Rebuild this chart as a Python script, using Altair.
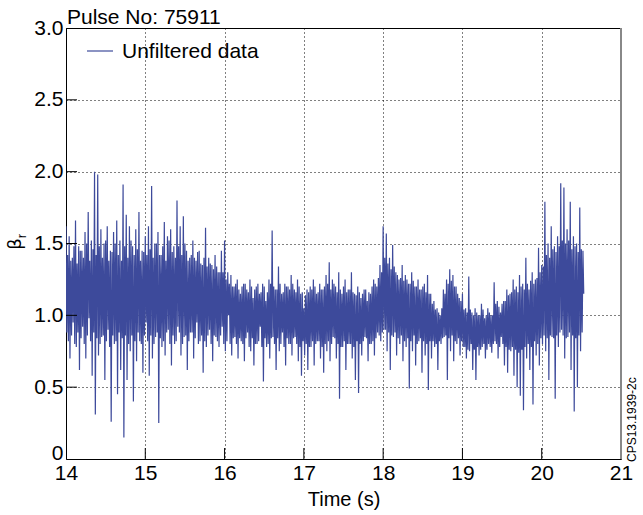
import altair as alt
import pandas as pd

TIME_START = 14.0
TIME_STEP = 0.01

VALS_14 = [1.62, 0.88, 1.42, 0.82, 1.55, 0.70, 1.38, 0.86, 1.40, 0.95, 1.48, 0.80, 1.66, 0.78, 1.36, 0.88, 1.48, 0.62, 1.45, 0.84,
           1.45, 0.92, 1.40, 0.80, 1.58, 0.70, 1.50, 0.86, 1.72, 0.98, 1.38, 0.82, 1.52, 0.58, 1.46, 0.88, 2.00, 0.31, 1.42, 0.84,
           1.98, 0.72, 1.48, 0.80, 1.60, 0.85, 1.40, 0.86, 1.50, 0.55, 1.52, 0.82, 1.62, 0.90, 1.38, 0.78, 1.45, 0.26, 1.44, 0.86,
           1.58, 0.80, 1.50, 0.82, 1.66, 0.45, 1.42, 0.88, 1.52, 0.62, 1.38, 0.84, 1.91, 0.15, 1.48, 0.86, 1.70, 0.55, 1.40, 0.80,
           1.62, 0.75, 1.52, 0.86, 1.48, 0.40, 1.42, 0.82, 1.60, 0.68, 1.46, 0.88, 1.72, 0.82, 1.38, 0.80, 1.45, 0.60, 1.44, 0.86]
VALS_15 = [1.55, 0.95, 1.42, 0.82, 1.62, 0.58, 1.46, 0.86, 1.90, 0.70, 1.40, 0.80, 1.50, 0.85, 1.50, 0.88, 1.58, 0.25, 1.42, 0.84,
           1.42, 0.78, 1.48, 0.82, 1.65, 0.72, 1.38, 0.88, 1.55, 0.90, 1.52, 0.80, 1.60, 0.65, 1.44, 0.86, 1.48, 0.80, 1.40, 0.82,
           1.80, 0.92, 1.48, 0.88, 1.62, 0.72, 1.42, 0.80, 1.69, 0.85, 1.50, 0.86, 1.45, 0.62, 1.38, 0.82, 1.40, 0.88, 1.42, 0.88,
           1.52, 0.70, 1.40, 0.84, 1.38, 0.95, 1.44, 0.80, 1.45, 0.82, 1.36, 0.86, 1.35, 0.60, 1.40, 0.82, 1.61, 0.78, 1.34, 0.86,
           1.40, 0.90, 1.36, 0.80, 1.35, 0.68, 1.32, 0.86, 1.42, 0.85, 1.34, 0.82, 1.30, 0.78, 1.30, 0.86, 1.45, 0.92, 1.30, 0.80]
VALS_16 = [1.52, 0.75, 1.25, 0.82, 1.30, 1.00, 1.22, 0.80, 1.28, 0.72, 1.20, 0.84, 1.20, 0.85, 1.22, 0.80, 1.25, 0.70, 1.18, 0.84,
           1.15, 0.82, 1.20, 0.80, 1.22, 0.68, 1.22, 0.84, 1.18, 0.88, 1.16, 0.78, 1.25, 0.75, 1.20, 0.84, 1.12, 0.65, 1.18, 0.80,
           1.20, 0.80, 1.22, 0.82, 1.15, 0.92, 1.16, 0.78, 1.22, 0.54, 1.20, 0.84, 1.10, 0.78, 1.16, 0.80, 1.25, 0.70, 1.22, 0.84,
           1.59, 0.85, 1.20, 0.80, 1.18, 0.62, 1.18, 0.84, 1.34, 0.75, 1.22, 0.80, 1.15, 0.88, 1.16, 0.78, 1.22, 0.65, 1.20, 0.84,
           1.20, 0.80, 1.18, 0.80, 1.28, 0.72, 1.22, 0.84, 1.18, 0.85, 1.16, 0.80, 1.25, 0.68, 1.20, 0.78, 1.15, 0.58, 1.16, 0.82]
VALS_17 = [1.05, 0.72, 1.14, 0.80, 1.18, 0.62, 1.16, 0.78, 1.20, 0.78, 1.18, 0.82, 1.25, 0.65, 1.20, 0.80, 1.15, 0.82, 1.16, 0.82,
           1.22, 0.70, 1.18, 0.78, 1.18, 0.60, 1.20, 0.80, 1.28, 0.75, 1.22, 0.82, 1.37, 0.68, 1.18, 0.80, 1.25, 0.85, 1.22, 0.84,
           1.20, 0.70, 1.16, 0.80, 1.30, 0.42, 1.18, 0.78, 1.15, 0.78, 1.20, 0.82, 1.25, 0.62, 1.16, 0.80, 1.18, 0.80, 1.18, 0.80,
           1.30, 0.70, 1.16, 0.78, 1.15, 0.55, 1.14, 0.82, 1.20, 0.46, 1.16, 0.80, 1.12, 0.72, 1.15, 0.82, 1.18, 0.85, 1.18, 0.84,
           1.10, 0.68, 1.16, 0.80, 1.15, 0.80, 1.20, 0.82, 1.25, 0.72, 1.22, 0.84, 1.20, 0.88, 1.26, 0.86, 1.35, 0.82, 1.30, 0.88]
VALS_18 = [1.62, 0.90, 1.40, 0.90, 1.57, 0.75, 1.36, 0.88, 1.40, 0.62, 1.32, 0.86, 1.49, 0.85, 1.34, 0.88, 1.30, 0.72, 1.28, 0.84,
           1.25, 0.80, 1.26, 0.86, 1.35, 0.68, 1.24, 0.82, 1.28, 0.78, 1.25, 0.84, 1.22, 0.49, 1.22, 0.82, 1.30, 0.75, 1.24, 0.86,
           1.20, 0.65, 1.20, 0.80, 1.25, 0.82, 1.18, 0.84, 1.18, 0.60, 1.20, 0.82, 1.22, 0.72, 1.16, 0.80, 1.28, 0.48, 1.15, 0.82,
           1.15, 0.70, 1.08, 0.82, 1.10, 0.78, 1.04, 0.80, 1.05, 0.62, 1.02, 0.82, 1.00, 0.80, 1.05, 0.84, 1.18, 0.85, 1.15, 0.86,
           1.25, 0.55, 1.22, 0.84, 1.32, 0.75, 1.24, 0.86, 1.28, 0.68, 1.20, 0.82, 1.20, 0.80, 1.15, 0.84, 1.12, 0.72, 1.10, 0.82]
VALS_19 = [1.15, 0.78, 1.04, 0.78, 1.05, 0.70, 1.02, 0.76, 1.27, 0.75, 1.04, 0.80, 1.02, 0.62, 1.00, 0.76, 1.05, 0.55, 1.02, 0.78,
           1.00, 0.72, 1.00, 0.76, 1.08, 0.78, 1.04, 0.80, 0.98, 0.70, 1.00, 0.76, 1.05, 0.80, 1.02, 0.78, 1.00, 0.74, 1.00, 0.80,
           1.23, 0.82, 1.08, 0.80, 1.10, 0.70, 1.06, 0.78, 1.02, 0.85, 1.08, 0.80, 1.10, 0.65, 1.10, 0.78, 1.18, 0.60, 1.14, 0.76,
           1.15, 0.75, 1.16, 0.78, 1.25, 0.58, 1.18, 0.76, 1.20, 0.50, 1.16, 0.74, 1.28, 0.44, 1.20, 0.76, 1.22, 0.34, 1.18, 0.78,
           1.40, 0.70, 1.22, 0.80, 1.18, 0.62, 1.24, 0.78, 1.30, 0.38, 1.22, 0.82, 1.25, 0.72, 1.26, 0.80, 1.47, 0.65, 1.30, 0.84]
VALS_20 = [1.35, 0.80, 1.34, 0.86, 1.79, 0.75, 1.42, 0.84, 1.50, 0.55, 1.40, 0.86, 1.62, 0.85, 1.46, 0.84, 1.48, 0.42, 1.44, 0.86,
           1.55, 0.78, 1.48, 0.88, 1.92, 0.90, 1.52, 0.86, 1.89, 0.70, 1.50, 0.84, 1.60, 0.85, 1.52, 0.88, 1.79, 0.62, 1.46, 0.86,
           1.55, 0.33, 1.48, 0.84, 1.50, 0.50, 1.44, 0.86, 1.75, 0.75, 1.46, 0.88, 1.45, 1.15]

X_TICKS = [14, 15, 16, 17, 18, 19, 20, 21]
Y_TICKS = [0, 0.5, 1.0, 1.5, 2.0, 2.5, 3.0]
X_INNER_TICKS = [15, 16, 17, 18, 19, 20]
Y_INNER_TICKS = [0.5, 1.0, 1.5, 2.0, 2.5]

TITLE = "Pulse No: 75911"
LEGEND_LABEL = "Unfiltered data"
X_TITLE = "Time (s)"
SIDE_NOTE = "CPS13.1939-2c"

LINE_COLOR = "#3d4a9b"
FONT = "Liberation Sans"

values = VALS_14 + VALS_15 + VALS_16 + VALS_17 + VALS_18 + VALS_19 + VALS_20
times = [round(TIME_START + TIME_STEP * i, 3) for i in range(len(values))]
df = pd.DataFrame({"t": times, "beta": values})

W, H = 555, 431

x_axis = alt.Axis(values=X_TICKS, format="d", title=X_TITLE, grid=True,
                  gridDash=[1, 3], gridColor="black", gridOpacity=1, gridWidth=1,
                  domain=False, ticks=False, tickSize=0, labelFlush=False,
                  labelFont=FONT, labelFontSize=21, labelColor="black", labelPadding=3,
                  titleFont=FONT, titleFontSize=20, titleFontWeight="normal",
                  titleColor="black", titlePadding=6)
y_axis = alt.Axis(values=Y_TICKS, title=None, grid=True,
                  gridDash=[1, 3], gridColor="black", gridOpacity=1, gridWidth=1,
                  domain=False, ticks=False, tickSize=0, labelFlush=False,
                  labelExpr="datum.value == 0 ? '0' : format(datum.value, '.1f')",
                  labelFont=FONT, labelFontSize=21, labelColor="black", labelPadding=3,
                  labelBaseline={"condition": {"test": "datum.value == 0", "value": "alphabetic"},
                                 "value": "middle"})

xs = alt.Scale(domain=[14, 21], nice=False, zero=False)
ys = alt.Scale(domain=[0, 3], nice=False, zero=False)

line = alt.Chart(df).mark_line(color=LINE_COLOR, strokeWidth=1.2, strokeJoin="bevel",
                               clip=True).encode(
    x=alt.X("t:Q", scale=xs, axis=x_axis),
    y=alt.Y("beta:Q", scale=ys, axis=y_axis),
)

xt = alt.Chart(pd.DataFrame({"t": X_INNER_TICKS})).mark_rule(color="black", strokeWidth=1).encode(
    x=alt.X("t:Q", scale=xs, axis=x_axis),
    y=alt.value(H), y2=alt.value(H - 11),
)
yt = alt.Chart(pd.DataFrame({"beta": Y_INNER_TICKS})).mark_rule(color="black", strokeWidth=1).encode(
    y=alt.Y("beta:Q", scale=ys, axis=y_axis),
    x=alt.value(0), x2=alt.value(11),
)

one = pd.DataFrame({"k": [0]})
right_border = alt.Chart(one).mark_rule(color="#888888", strokeWidth=2).encode(
    x=alt.value(W), y=alt.value(0), y2=alt.value(H))

title = alt.Chart(one).mark_text(text=TITLE, font=FONT, fontSize=21, align="left",
                                 baseline="alphabetic", color="black").encode(
    x=alt.value(1), y=alt.value(-4))

leg_line = alt.Chart(one).mark_rule(color=LINE_COLOR, strokeWidth=1.2).encode(
    x=alt.value(21), x2=alt.value(47), y=alt.value(23))
leg_text = alt.Chart(one).mark_text(text=LEGEND_LABEL, font=FONT, fontSize=21, align="left",
                                    baseline="middle", color="black").encode(
    x=alt.value(56), y=alt.value(24))

beta = alt.Chart(one).mark_text(text="β", font="DejaVu Sans", fontSize=18, angle=270,
                                align="center", baseline="alphabetic", color="black").encode(
    x=alt.value(-45), y=alt.value(216))
sub_r = alt.Chart(one).mark_text(text="r", font=FONT, fontSize=13, angle=270,
                                 align="center", baseline="alphabetic", color="black").encode(
    x=alt.value(-40), y=alt.value(208))

side = alt.Chart(one).mark_text(text=SIDE_NOTE, font=FONT, fontSize=12, angle=270,
                                align="left", baseline="alphabetic", color="black").encode(
    x=alt.value(W + 15), y=alt.value(H + 3))

chart = alt.layer(line, xt, yt, right_border, title, leg_line, leg_text, beta, sub_r, side).properties(
    width=W, height=H,
    autosize=alt.AutoSizeParams(type="none"),
    padding={"left": 66, "top": 28, "right": 22, "bottom": 56},
    background="white",
).configure_view(stroke="black", strokeWidth=1)

chart.save("out.html", embed_options={"renderer": "svg", "actions": False})
